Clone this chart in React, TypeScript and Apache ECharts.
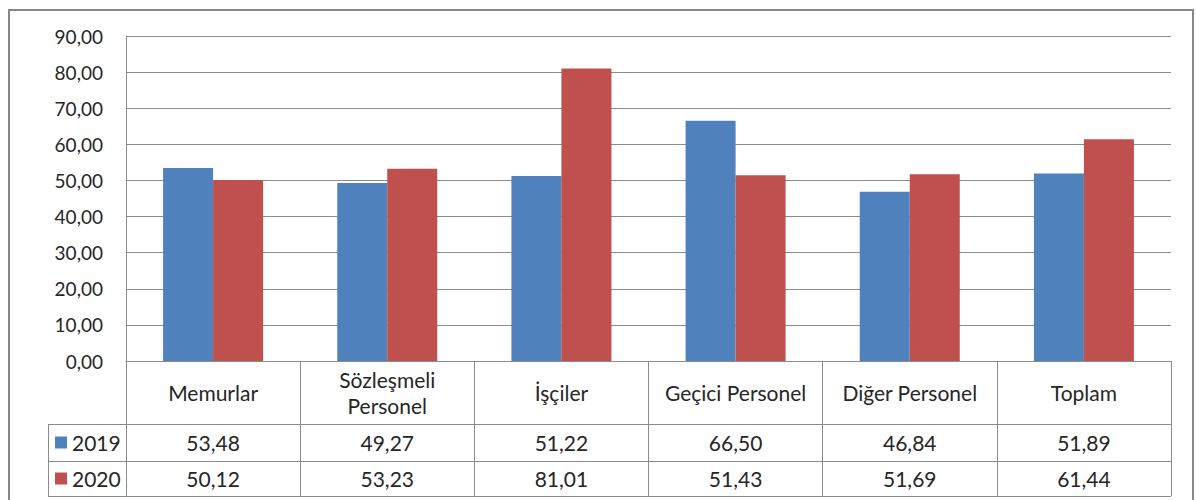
import React, { useEffect, useRef } from "react";
import * as echarts from "echarts";

const categories = ["Memurlar", "Sözleşmeli\nPersonel", "İşçiler", "Geçici Personel", "Diğer Personel", "Toplam"];
const seriesNames = ["2019", "2020"];
const values2019 = [53.48, 49.27, 51.22, 66.5, 46.84, 51.89];
const values2020 = [50.12, 53.23, 81.01, 51.43, 51.69, 61.44];
const yTicks = { min: 0, max: 90, interval: 10 };

const fmt = (v: number) => v.toFixed(2).replace(".", ",");

const FONT = "Lato";
const TEXT = "#262626";
const LINE = "#8c8c8c";

export default function App() {
  const ref = useRef<HTMLDivElement>(null);
  useEffect(() => {
    if (!ref.current) return;
    const chart = echarts.init(ref.current, null, { renderer: "svg" });
    const gl = 126, gr = 1171, gb = 361;
    const rowTop = 424, rowMid = 461, rowBot = 496;
    const tableLeft = 48;
    const valueAxis = (vals: number[], margin: number) => ({
      type: "category",
      data: categories,
      position: "bottom",
      axisLine: { show: false },
      axisTick: { show: false },
      axisLabel: {
        interval: 0,
        margin,
        verticalAlign: "middle",
        fontSize: 21,
        fontFamily: FONT,
        color: TEXT,
        formatter: (_v: string, i: number) => fmt(vals[i]),
      },
    });
    const legendFor = (name: string, top: number) => ({
      data: [name],
      left: 55,
      top,
      padding: 0,
      icon: "rect",
      itemWidth: 12,
      itemHeight: 12,
      itemGap: 6,
      textStyle: { fontSize: 21, fontFamily: FONT, color: TEXT, lineHeight: 22 },
    });
    chart.setOption({
      animation: false,
      backgroundColor: "#ffffff",
      grid: { left: gl, right: 1196 - gr, top: 36, bottom: 500 - gb },
      legend: [
        legendFor(seriesNames[0], (rowTop + rowMid) / 2 - 11),
        legendFor(seriesNames[1], (rowMid + rowBot) / 2 - 11),
      ],
      xAxis: [
        {
          type: "category",
          data: categories,
          position: "bottom",
          axisLine: { show: true, lineStyle: { color: LINE, width: 1 } },
          axisTick: { show: true, length: rowBot - gb, lineStyle: { color: LINE, width: 1 } },
          axisLabel: {
            interval: 0,
            margin: (gb + rowTop) / 2 - gb,
            verticalAlign: "middle",
            fontSize: 21,
            lineHeight: 26,
            fontFamily: FONT,
            color: TEXT,
          },
        },
        valueAxis(values2019, (rowTop + rowMid) / 2 - gb),
        valueAxis(values2020, (rowMid + rowBot) / 2 - gb),
      ],
      yAxis: {
        type: "value",
        min: yTicks.min,
        max: yTicks.max,
        interval: yTicks.interval,
        axisLine: { show: true, lineStyle: { color: LINE, width: 1 } },
        axisTick: { show: false },
        splitLine: { show: true, lineStyle: { color: LINE, width: 1 } },
        axisLabel: {
          margin: 23,
          fontSize: 19,
          fontFamily: FONT,
          color: TEXT,
          formatter: (v: number) => fmt(v),
        },
      },
      series: [
        {
          name: seriesNames[0],
          type: "bar",
          data: values2019,
          barWidth: 50,
          barGap: "0%",
          itemStyle: { color: "#4F81BD" },
        },
        {
          name: seriesNames[1],
          type: "bar",
          data: values2020,
          barWidth: 50,
          barGap: "0%",
          itemStyle: { color: "#C0504D" },
        },
      ],
      graphic: [
        {
          type: "rect",
          shape: { x: 9, y: 10, width: 1184, height: 500 },
          style: { fill: "none", stroke: "#888888", lineWidth: 2 },
          silent: true,
        },
        ...[rowTop, rowMid, rowBot].map((y) => ({
          type: "line",
          shape: { x1: tableLeft, y1: y + 0.5, x2: gr, y2: y + 0.5 },
          style: { stroke: LINE, lineWidth: 1 },
          silent: true,
        })),
        {
          type: "line",
          shape: { x1: tableLeft + 0.5, y1: rowTop, x2: tableLeft + 0.5, y2: rowBot + 1 },
          style: { stroke: LINE, lineWidth: 1 },
          silent: true,
        },
      ],
    });
    return () => chart.dispose();
  }, []);
  return (
    <div
      ref={ref}
      style={{ position: "absolute", left: 0, top: 0, width: 1196, height: 500, background: "#fff" }}
    />
  );
}
